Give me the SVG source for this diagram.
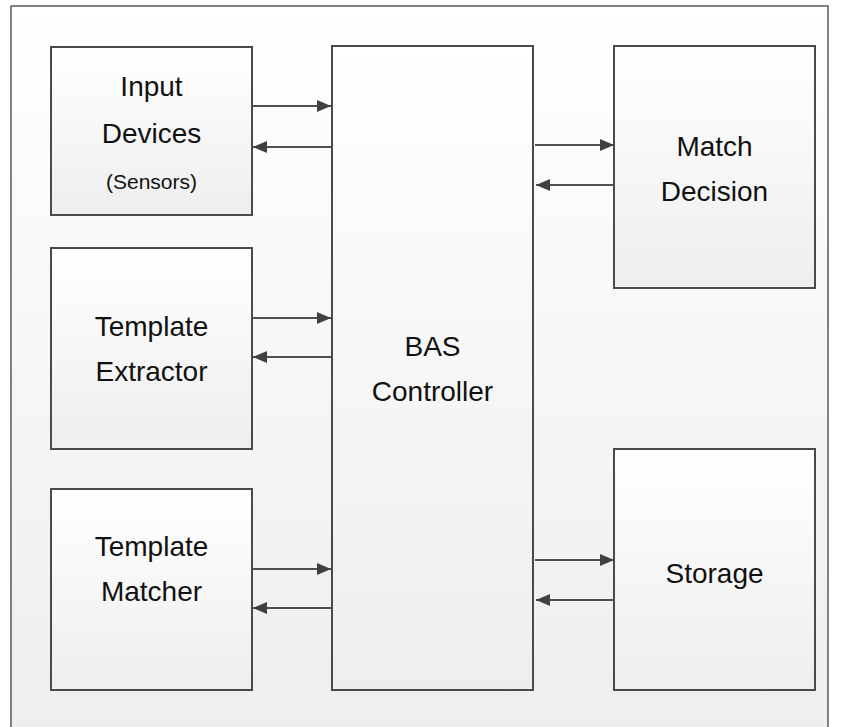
<svg xmlns="http://www.w3.org/2000/svg" width="843" height="727" viewBox="0 0 843 727">
<defs>
<linearGradient id="box" x1="0" y1="0" x2="0" y2="1">
<stop offset="0" stop-color="#ffffff"/>
<stop offset="1" stop-color="#eeeeee"/>
</linearGradient>
<linearGradient id="page" gradientUnits="userSpaceOnUse" x1="0" y1="6" x2="0" y2="727">
<stop offset="0" stop-color="#ffffff"/>
<stop offset="1" stop-color="#eeeeee"/>
</linearGradient>
<marker id="ah" viewBox="0 0 14 12" refX="14" refY="6" markerWidth="14" markerHeight="12" markerUnits="userSpaceOnUse" orient="auto">
<path d="M0,0 L14,6 L0,12 Z" fill="#404040"/>
</marker>
</defs>
<style>
.frame{fill:url(#page);stroke:#5a5a5a;stroke-width:1.5}
.node{fill:url(#box);stroke:#4a4a4a;stroke-width:2}
.lbl{font-family:"Liberation Sans",Arial,sans-serif;font-size:28px;fill:#111;text-anchor:middle}
.sm{font-size:21px}
.conn line{stroke:#505050;stroke-width:2;marker-end:url(#ah)}
</style>
<rect class="frame" x="11" y="6" width="817" height="740"/>
<g id="input-devices">
<rect class="node" x="51" y="47" width="201" height="168"/>
<text class="lbl" x="151.5" y="96">Input</text>
<text class="lbl" x="151.5" y="143">Devices</text>
<text class="lbl sm" x="151.5" y="189">(Sensors)</text>
</g>
<g id="template-extractor">
<rect class="node" x="51" y="248" width="201" height="201"/>
<text class="lbl" x="151.5" y="336">Template</text>
<text class="lbl" x="151.5" y="381">Extractor</text>
</g>
<g id="template-matcher">
<rect class="node" x="51" y="489" width="201" height="201"/>
<text class="lbl" x="151.5" y="556">Template</text>
<text class="lbl" x="151.5" y="601">Matcher</text>
</g>
<g id="bas-controller">
<rect class="node" x="332" y="46" width="201" height="644"/>
<text class="lbl" x="432.5" y="356">BAS</text>
<text class="lbl" x="432.5" y="401">Controller</text>
</g>
<g id="match-decision">
<rect class="node" x="614" y="46" width="201" height="242"/>
<text class="lbl" x="714.5" y="156">Match</text>
<text class="lbl" x="714.5" y="201">Decision</text>
</g>
<g id="storage">
<rect class="node" x="614" y="449" width="201" height="241"/>
<text class="lbl" x="714.5" y="583">Storage</text>
</g>
<g id="connectors" class="conn">
<line x1="252" y1="106" x2="331" y2="106"/>
<line x1="332" y1="147" x2="253" y2="147"/>
<line x1="252" y1="318" x2="331" y2="318"/>
<line x1="332" y1="357" x2="253" y2="357"/>
<line x1="252" y1="569" x2="331" y2="569"/>
<line x1="332" y1="608" x2="253" y2="608"/>
<line x1="535" y1="145" x2="614" y2="145"/>
<line x1="614" y1="185" x2="536" y2="185"/>
<line x1="535" y1="560" x2="614" y2="560"/>
<line x1="614" y1="600" x2="536" y2="600"/>
</g>
</svg>
